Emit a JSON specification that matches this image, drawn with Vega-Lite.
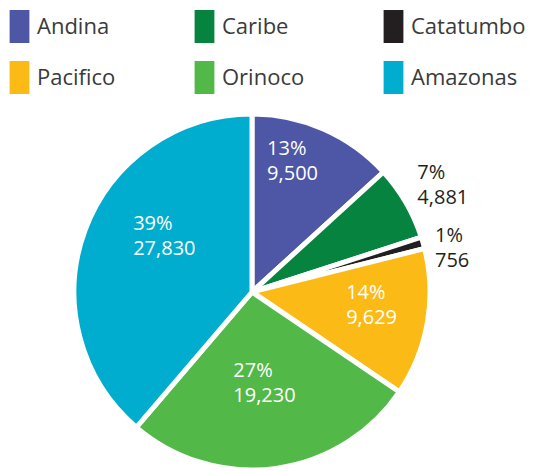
{
  "$schema": "https://vega.github.io/schema/vega-lite/v6.json",
  "width": 504,
  "height": 360,
  "autosize": {"type": "none"},
  "padding": {"left": 0, "top": 112, "right": 37, "bottom": 0},
  "background": "white",
  "config": {"view": {"stroke": null}, "font": "Open Sans"},
  "data": {
    "values": [
      {"region": "Andina", "value": 9500, "ord": 1, "label": "13%\n9,500"},
      {"region": "Caribe", "value": 4881, "ord": 2, "label": "7%\n4,881"},
      {"region": "Catatumbo", "value": 756, "ord": 3, "label": "1%\n756"},
      {"region": "Pacifico", "value": 9629, "ord": 4, "label": "14%\n9,629"},
      {"region": "Orinoco", "value": 19230, "ord": 5, "label": "27%\n19,230"},
      {"region": "Amazonas", "value": 27830, "ord": 6, "label": "39%\n27,830"}
    ]
  },
  "encoding": {
    "theta": {"field": "value", "type": "quantitative", "stack": true},
    "order": {"field": "ord", "type": "quantitative"},
    "text": {"field": "label", "type": "nominal"}
  },
  "layer": [
    {
      "mark": {"type": "arc", "stroke": "white", "strokeWidth": 5, "outerRadius": 178},
      "encoding": {
        "text": null,
        "color": {
          "field": "region",
          "type": "nominal",
          "scale": {
            "domain": ["Andina", "Caribe", "Catatumbo", "Pacifico", "Orinoco", "Amazonas"],
            "range": ["#4E56A6", "#06843F", "#231F20", "#FBBA16", "#52B848", "#00ADCE"]
          },
          "legend": {
            "title": null,
            "orient": "none",
            "legendX": 3,
            "legendY": -102,
            "direction": "horizontal",
            "columns": 3,
            "gridAlign": "each",
            "columnPadding": 72,
            "rowPadding": 18,
            "padding": 0,
            "symbolType": "M-0.6,-1H0.6V1H-0.6Z",
            "symbolSize": 1089,
            "symbolStrokeWidth": 0,
            "symbolOpacity": 1,
            "labelOffset": 1,
            "labelFontSize": 22,
            "labelFont": "Open Sans",
            "labelColor": "#3a3a3a",
            "labelLimit": 300
          }
        }
      }
    },
    {
      "mark": {"type": "text", "radius": 139, "dx": -41, "dy": -16, "align": "left", "baseline": "middle", "lineBreak": "\n", "fontSize": 20, "lineHeight": 25, "color": "white"},
      "encoding": {"opacity": {"condition": {"test": "datum.region == 'Andina'", "value": 1}, "value": 0}}
    },
    {
      "mark": {"type": "text", "radius": 219, "dx": -24, "dy": -9, "align": "left", "baseline": "middle", "lineBreak": "\n", "fontSize": 20, "lineHeight": 25, "color": "#231F20"},
      "encoding": {"opacity": {"condition": {"test": "datum.region == 'Caribe'", "value": 1}, "value": 0}}
    },
    {
      "mark": {"type": "text", "radius": 207, "dx": -16, "dy": 1, "align": "left", "baseline": "middle", "lineBreak": "\n", "fontSize": 20, "lineHeight": 25, "color": "#231F20"},
      "encoding": {"opacity": {"condition": {"test": "datum.region == 'Catatumbo'", "value": 1}, "value": 0}}
    },
    {
      "mark": {"type": "text", "radius": 123, "dx": -27, "dy": -20, "align": "left", "baseline": "middle", "lineBreak": "\n", "fontSize": 20, "lineHeight": 25, "color": "white"},
      "encoding": {"opacity": {"condition": {"test": "datum.region == 'Pacifico'", "value": 1}, "value": 0}}
    },
    {
      "mark": {"type": "text", "radius": 92, "dx": -31, "dy": -12, "align": "left", "baseline": "middle", "lineBreak": "\n", "fontSize": 20, "lineHeight": 25, "color": "white"},
      "encoding": {"opacity": {"condition": {"test": "datum.region == 'Orinoco'", "value": 1}, "value": 0}}
    },
    {
      "mark": {"type": "text", "radius": 100, "dx": -25, "dy": -33, "align": "left", "baseline": "middle", "lineBreak": "\n", "fontSize": 20, "lineHeight": 25, "color": "white"},
      "encoding": {"opacity": {"condition": {"test": "datum.region == 'Amazonas'", "value": 1}, "value": 0}}
    }
  ]
}
